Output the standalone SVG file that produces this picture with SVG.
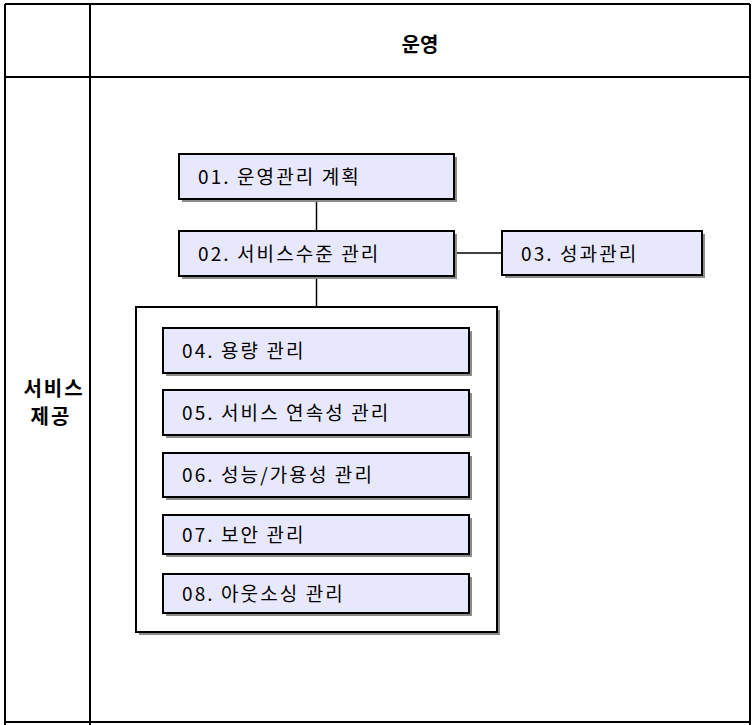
<svg xmlns="http://www.w3.org/2000/svg" width="752" height="725" viewBox="0 0 752 725">
<style>
.frame{fill:none;stroke:#000;stroke-width:2}
.box{fill:#E8E8FC;stroke:#000;stroke-width:2}
.cont{fill:#fff;stroke:#000;stroke-width:2}
.sh{fill:#8c8c8c}
.lbl{font-family:"Noto Sans CJK KR","Noto Sans",sans-serif;font-size:19px;fill:#000;letter-spacing:2.1px}
.hd{font-family:"Noto Sans CJK KR","Noto Sans",sans-serif;font-size:20px;font-weight:bold;fill:#000;text-anchor:middle}
.conn{stroke:#000;stroke-width:1.5;fill:none}
</style>
<rect width="752" height="725" fill="#fff"/>
<g id="table">
<line x1="5" y1="4" x2="750" y2="4" class="frame"/>
<line x1="5" y1="4" x2="5" y2="725" class="frame"/>
<line x1="750" y1="4" x2="750" y2="725" class="frame"/>
<line x1="90" y1="4" x2="90" y2="725" class="frame"/>
<line x1="5" y1="77" x2="750" y2="77" class="frame"/>
<line x1="5" y1="722" x2="750" y2="722" class="frame"/>
<text class="hd" x="420" y="52">운영</text>
<text class="hd" x="54" y="396" style="letter-spacing:2px">서비스</text>
<text class="hd" x="51" y="424" style="letter-spacing:2px">제공</text>
</g>
<g id="connectors">
<line class="conn" x1="316.5" y1="199" x2="316.5" y2="231"/>
<line class="conn" x1="454" y1="253" x2="502" y2="253"/>
<line class="conn" x1="316.5" y1="276" x2="316.5" y2="307"/>
</g>
<g id="n01">
<rect class="sh" x="182" y="157" width="275" height="45"/>
<rect class="box" x="179" y="154" width="275" height="45"/>
<text class="lbl" x="198" y="184">01. 운영관리 계획</text>
</g>
<g id="n02">
<rect class="sh" x="182" y="234" width="275" height="45"/>
<rect class="box" x="179" y="231" width="275" height="45"/>
<text class="lbl" x="198" y="261">02. 서비스수준 관리</text>
</g>
<g id="n03">
<rect class="sh" x="505" y="234" width="200" height="44"/>
<rect class="box" x="502" y="231" width="200" height="44"/>
<text class="lbl" x="521" y="261">03. 성과관리</text>
</g>
<g id="group">
<rect class="sh" x="139" y="310" width="361" height="325"/>
<rect class="cont" x="136" y="307" width="361" height="325"/>
</g>
<g id="n04">
<rect class="sh" x="166" y="331" width="306" height="45"/>
<rect class="box" x="163" y="328" width="306" height="45"/>
<text class="lbl" x="182" y="358">04. 용량 관리</text>
</g>
<g id="n05">
<rect class="sh" x="166" y="393" width="306" height="45"/>
<rect class="box" x="163" y="390" width="306" height="45"/>
<text class="lbl" x="182" y="420">05. 서비스 연속성 관리</text>
</g>
<g id="n06">
<rect class="sh" x="166" y="456" width="306" height="44"/>
<rect class="box" x="163" y="453" width="306" height="44"/>
<text class="lbl" x="182" y="482">06. 성능/가용성 관리</text>
</g>
<g id="n07">
<rect class="sh" x="166" y="518" width="306" height="39"/>
<rect class="box" x="163" y="515" width="306" height="39"/>
<text class="lbl" x="182" y="542">07. 보안 관리</text>
</g>
<g id="n08">
<rect class="sh" x="166" y="577" width="306" height="39"/>
<rect class="box" x="163" y="574" width="306" height="39"/>
<text class="lbl" x="182" y="601">08. 아웃소싱 관리</text>
</g>
</svg>
